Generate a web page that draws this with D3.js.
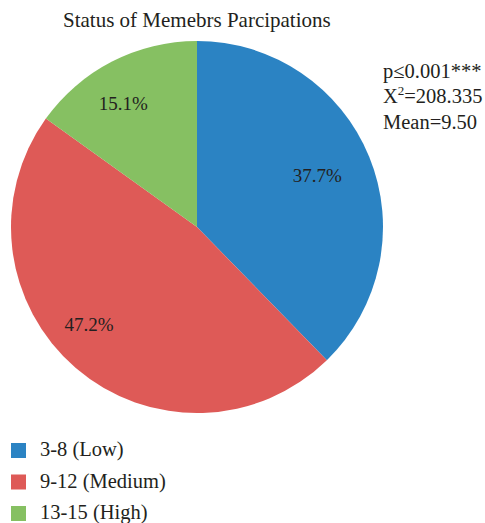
<!DOCTYPE html>
<html>
<head>
<meta charset="utf-8">
<script src="https://cdn.jsdelivr.net/npm/d3@7"></script>
<style>
  body { margin: 0; background: #fff; }
</style>
</head>
<body>
<script>
var width = 485,
    height = 523;

var categories = ['3-8 (Low)', '9-12 (Medium)', '13-15 (High)'];
var values = [37.7, 47.2, 15.1];
var colours = ['#2b83c3', '#de5a57', '#86c062'];
var title = 'Status of Memebrs Parcipations';
var stats = ['p\u22640.001***', 'X2=208.335', 'Mean=9.50'];

var cx = 197, cy = 227, radius = 186;
var labelR = radius * 0.75;
var labelNudge = [[-9, 1], [-17, -8], [-10, 0]]; // small shifts off the centroid, as in the original
var serif = "'Liberation Serif', 'DejaVu Serif', serif";

var svg = d3.select('body').append('svg')
    .attr('xmlns', 'http://www.w3.org/2000/svg')
    .attr('width', width)
    .attr('height', height)
    .style('font-family', serif)
    .attr('fill', '#231f20');

svg.append('text')
    .attr('x', 63).attr('y', 27)
    .attr('font-size', 21)
    .text(title);

var pie = d3.pie().sort(null).value(function(d) { return d; });
var arcs = pie(values);
var arc = d3.arc().innerRadius(0).outerRadius(radius);
var labelArc = d3.arc().innerRadius(labelR).outerRadius(labelR);

var g = svg.append('g').attr('transform', 'translate(' + cx + ',' + cy + ')');

g.selectAll('path.slice')
  .data(arcs)
  .enter().append('path')
    .attr('class', 'slice')
    .attr('d', arc)
    .attr('fill', function(d, i) { return colours[i]; });

g.selectAll('text.lbl')
  .data(arcs)
  .enter().append('text')
    .attr('class', 'lbl')
    .attr('transform', function(d, i) {
      var c = labelArc.centroid(d);
      return 'translate(' + (c[0] + labelNudge[i][0]) + ',' + (c[1] + labelNudge[i][1]) + ')';
    })
    .attr('text-anchor', 'middle')
    .attr('dy', '0.35em')
    .attr('font-size', 19)
    .text(function(d) { return d.data.toFixed(1) + '%'; });

// stats block on the right
var st = svg.append('g').attr('transform', 'translate(383,0)').attr('font-size', 20.5);
st.append('text').attr('y', 78).text(stats[0]);
var chi = st.append('text').attr('y', 103);
chi.append('tspan').text('X');
chi.append('tspan').attr('dy', -8).attr('font-size', 13).text('2');
chi.append('tspan').attr('dy', 8).text(stats[1].slice(2));
st.append('text').attr('y', 129).text(stats[2]);

// legend
var leg = svg.selectAll('g.leg')
  .data(categories)
  .enter().append('g')
    .attr('class', 'leg')
    .attr('transform', function(d, i) { return 'translate(11,' + (443 + i * 31.5) + ')'; });

leg.append('rect')
    .attr('width', 15).attr('height', 15)
    .attr('fill', function(d, i) { return colours[i]; });

leg.append('text')
    .attr('x', 29).attr('y', 13)
    .attr('font-size', 20.5)
    .text(function(d) { return d; });
</script>
</body>
</html>
